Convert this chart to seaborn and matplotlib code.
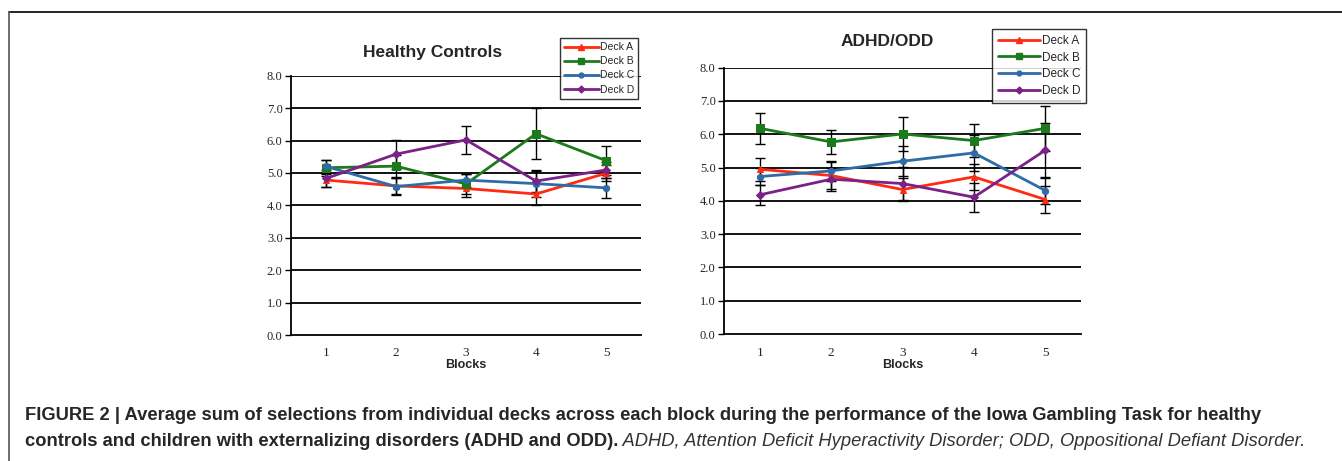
import numpy as np
import pandas as pd
import seaborn as sns
import matplotlib.pyplot as plt
from matplotlib.lines import Line2D

# data
blocks = [1, 2, 3, 4, 5]
decks = ["Deck A", "Deck B", "Deck C", "Deck D"]

hc_a = [4.78, 4.60, 4.52, 4.35, 4.99]
hc_b = [5.16, 5.21, 4.66, 6.21, 5.38]
hc_c = [5.20, 4.58, 4.78, 4.67, 4.54]
hc_d = [4.83, 5.58, 6.02, 4.75, 5.09]
hc_a_err = [0.20, 0.25, 0.25, 0.35, 0.25]
hc_b_err = [0.25, 0.35, 0.30, 0.79, 0.45]
hc_c_err = [0.20, 0.25, 0.20, 0.40, 0.30]
hc_d_err = [0.25, 0.45, 0.43, 0.35, 0.25]

adhd_a = [4.95, 4.76, 4.34, 4.72, 4.04]
adhd_b = [6.18, 5.77, 6.01, 5.81, 6.18]
adhd_c = [4.73, 4.90, 5.19, 5.44, 4.31]
adhd_d = [4.18, 4.65, 4.52, 4.11, 5.52]
adhd_a_err = [0.35, 0.40, 0.35, 0.40, 0.40]
adhd_b_err = [0.46, 0.37, 0.52, 0.49, 0.67]
adhd_c_err = [0.25, 0.30, 0.45, 0.55, 0.40]
adhd_d_err = [0.31, 0.35, 0.50, 0.43, 0.82]

colors = {"Deck A": "#ff2a12", "Deck B": "#1b7a1b", "Deck C": "#2f6ca6", "Deck D": "#7b2187"}
markers = {"Deck A": "^", "Deck B": "s", "Deck C": "o", "Deck D": "D"}
msizes = {"Deck A": 5, "Deck B": 5.5, "Deck C": 4.5, "Deck D": 4.5}

SERIF = ["Liberation Serif", "DejaVu Serif"]


def long_df(vals, errs):
    rows = []
    for deck, v, e in zip(decks, vals, errs):
        for b, y, s in zip(blocks, v, e):
            rows.append({"Block": b, "Deck": deck, "Mean": y, "Err": s})
    return pd.DataFrame(rows)


hc = long_df([hc_a, hc_b, hc_c, hc_d], [hc_a_err, hc_b_err, hc_c_err, hc_d_err])
adhd = long_df([adhd_a, adhd_b, adhd_c, adhd_d], [adhd_a_err, adhd_b_err, adhd_c_err, adhd_d_err])

sns.set_style("white")
plt.rcParams["font.family"] = ["Liberation Sans", "DejaVu Sans"]

fig = plt.figure(figsize=(13.42, 4.61), dpi=100)
ax1 = fig.add_axes([291 / 1342, 1 - 335 / 461, 350 / 1342, 259.3 / 461])
ax2 = fig.add_axes([724 / 1342, 1 - 334 / 461, 357 / 1342, 266.3 / 461])


def draw(ax, df, title, title_x, title_y):
    for y in range(1, 9):
        ax.axhline(y, color="black", lw=1.3, zorder=1)
    for deck in decks:
        sub = df[df["Deck"] == deck]
        ax.errorbar(sub["Block"], sub["Mean"], yerr=sub["Err"], fmt="none",
                    ecolor="black", elinewidth=1.0, capsize=3.5, capthick=1.0, zorder=2)
    for deck in decks:
        sub = df[df["Deck"] == deck]
        sns.lineplot(data=sub, x="Block", y="Mean", ax=ax, color=colors[deck],
                     marker=markers[deck], markersize=msizes[deck],
                     markeredgecolor=colors[deck], lw=2.0, label=deck, legend=False, zorder=3)
    ax.set_xlim(0.5, 5.5)
    ax.set_ylim(0, 8)
    ax.set_yticks(np.arange(0, 9, 1))
    ax.set_yticklabels([f"{v:.1f}" for v in range(0, 9)], family=SERIF, fontsize=9)
    ax.set_xticks(blocks)
    ax.set_xticklabels([str(b) for b in blocks], family=SERIF, fontsize=9.5)
    ax.set_xticks([0.5, 1.5, 2.5, 3.5, 4.5, 5.5], minor=True)
    ax.tick_params(axis="x", which="major", length=0, pad=9)
    ax.tick_params(axis="x", which="minor", length=4, width=1, direction="out", color="black")
    ax.tick_params(axis="y", length=4, width=1, direction="out", left=True, color="black", pad=2)
    for s in ["top", "right"]:
        ax.spines[s].set_visible(False)
    for s in ["left", "bottom"]:
        ax.spines[s].set_color("black")
        ax.spines[s].set_linewidth(1.3)
    ax.set_ylabel("")
    ax.set_xlabel("Blocks", fontsize=9, fontweight="bold", labelpad=0)
    fig.text(title_x / 1342, title_y, title, fontsize=12.5, fontweight="bold",
             ha="center", va="center")


draw(ax1, hc, "Healthy Controls", 433, 1 - 52 / 461)
draw(ax2, adhd, "ADHD/ODD", 887, 1 - 41 / 461)

handles = [Line2D([0], [0], color=colors[d], marker=markers[d], markersize=msizes[d] - 1, lw=2)
           for d in decks]
for x0, y0, fs, hl, bp in [(560, 38, 7.5, 3.3, 0.4), (992, 29, 8.5, 3.6, 0.5)]:
    leg = fig.legend(handles, decks, loc="upper left",
                     bbox_to_anchor=(x0 / 1342, 1 - y0 / 461), fontsize=fs,
                     frameon=True, fancybox=False, handlelength=hl, handletextpad=0.1,
                     labelspacing=0.4, borderpad=bp, borderaxespad=0)
    leg.get_frame().set_edgecolor("black")
    leg.get_frame().set_linewidth(1.0)
    leg.get_frame().set_boxstyle("square", pad=0)

# outer frame
fig.add_artist(Line2D([9 / 1342, 1], [1 - 12 / 461, 1 - 12 / 461], color="black", lw=1.2,
                      transform=fig.transFigure))
fig.add_artist(Line2D([9 / 1342, 9 / 1342], [0, 1 - 12 / 461], color="#555555", lw=1.2,
                      transform=fig.transFigure))

# caption
cap1 = ("FIGURE 2 | Average sum of selections from individual decks across each block during the "
        "performance of the Iowa Gambling Task for healthy")
cap2b = "controls and children with externalizing disorders (ADHD and ODD)."
cap2i = " ADHD, Attention Deficit Hyperactivity Disorder; ODD, Oppositional Defiant Disorder."
fig.text(25 / 1342, 1 - 416 / 461, cap1, fontsize=13.2, fontweight="bold", va="center")
t2 = fig.text(25 / 1342, 1 - 441 / 461, cap2b, fontsize=13.2, fontweight="bold", va="center")
fig.canvas.draw()
bb = t2.get_window_extent()
fig.text(bb.x1 / fig.bbox.width, 1 - 441 / 461, cap2i, fontsize=13.2, style="italic",
         va="center", color="#333333")

fig.savefig("out.png", dpi=100)
